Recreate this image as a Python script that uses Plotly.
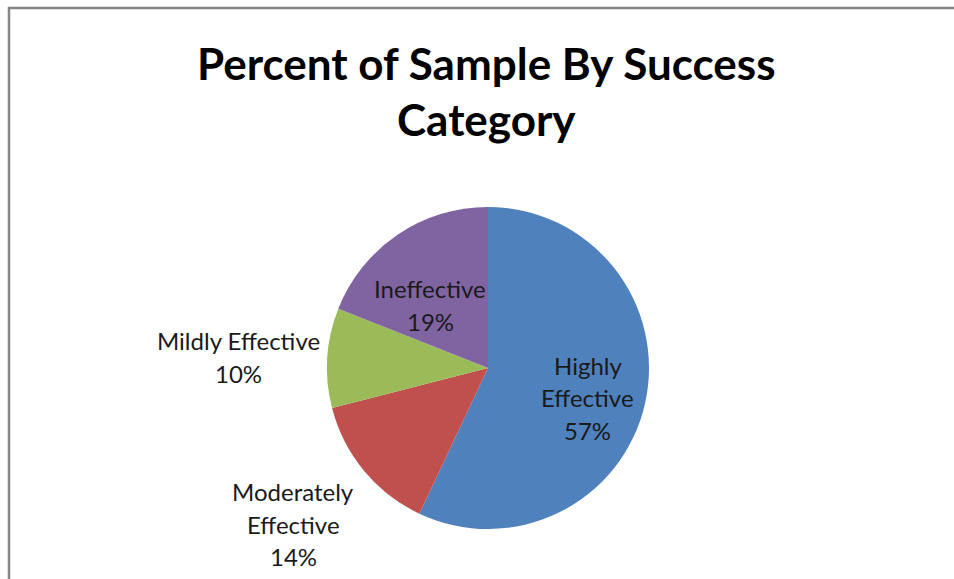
import math
import plotly.graph_objects as go

categories = ["Highly Effective", "Moderately Effective", "Mildly Effective", "Ineffective"]
percent = [57, 14, 10, 19]
label_lines = [["Highly", "Effective", "57%"],
               ["Moderately", "Effective", "14%"],
               ["Mildly Effective", "10%"],
               ["Ineffective", "19%"]]
colors = ["#4F81BD", "#C0504D", "#9BBB59", "#8064A2"]

W, H = 954, 579
CX, CY, R = 488, 368, 161
# label placement: (radial factor of R, angle tweak in degrees)
label_place = [(0.648, 4.1), (1.551, 0.9), (1.554, -1.1), (0.53, -8.4)]
LINE_GAP = 32.5
FONT = "Lato"

fig = go.Figure(go.Pie(
    labels=categories, values=percent, sort=False, direction="clockwise",
    rotation=0, marker=dict(colors=colors, line=dict(width=0)),
    textinfo="none", hoverinfo="label+percent", showlegend=False,
    domain=dict(x=[(CX - R) / W, (CX + R) / W], y=[(H - CY - R) / H, (H - CY + R) / H]),
))

annotations = []
total = sum(percent)
cum = 0
for i, v in enumerate(percent):
    mid = (cum + v / 2) / total * 360 + label_place[i][1]
    cum += v
    d = label_place[i][0] * R
    lx = CX + math.sin(math.radians(mid)) * d
    ly = CY - math.cos(math.radians(mid)) * d
    lines = label_lines[i]
    n = len(lines)
    for j, t in enumerate(lines):
        py = ly + (j - (n - 1) / 2) * LINE_GAP
        annotations.append(dict(text=t, x=lx / W, y=1 - py / H, xref="paper", yref="paper",
                                showarrow=False, xanchor="center", yanchor="middle",
                                font=dict(family=FONT, size=24, color="#1a1a1a")))

title_lines = ["Percent of Sample By Success", "Category"]
for j, t in enumerate(title_lines):
    annotations.append(dict(text="<b>%s</b>" % t, x=487 / W, y=1 - (63 + 56 * j) / H,
                            xref="paper", yref="paper", showarrow=False,
                            xanchor="center", yanchor="middle",
                            font=dict(family=FONT, size=44, color="#000000")))

shapes = [dict(type="path", xref="paper", yref="paper",
               path="M %f,%f L %f,%f L %f,%f" % (9 / W, 0, 9 / W, 1 - 8 / H, 1, 1 - 8 / H),
               line=dict(color="#878787", width=2.5))]

fig.update_layout(width=W, height=H, margin=dict(l=0, r=0, t=0, b=0),
                  paper_bgcolor="white", plot_bgcolor="white",
                  annotations=annotations, shapes=shapes)
fig.write_html("out.html")
